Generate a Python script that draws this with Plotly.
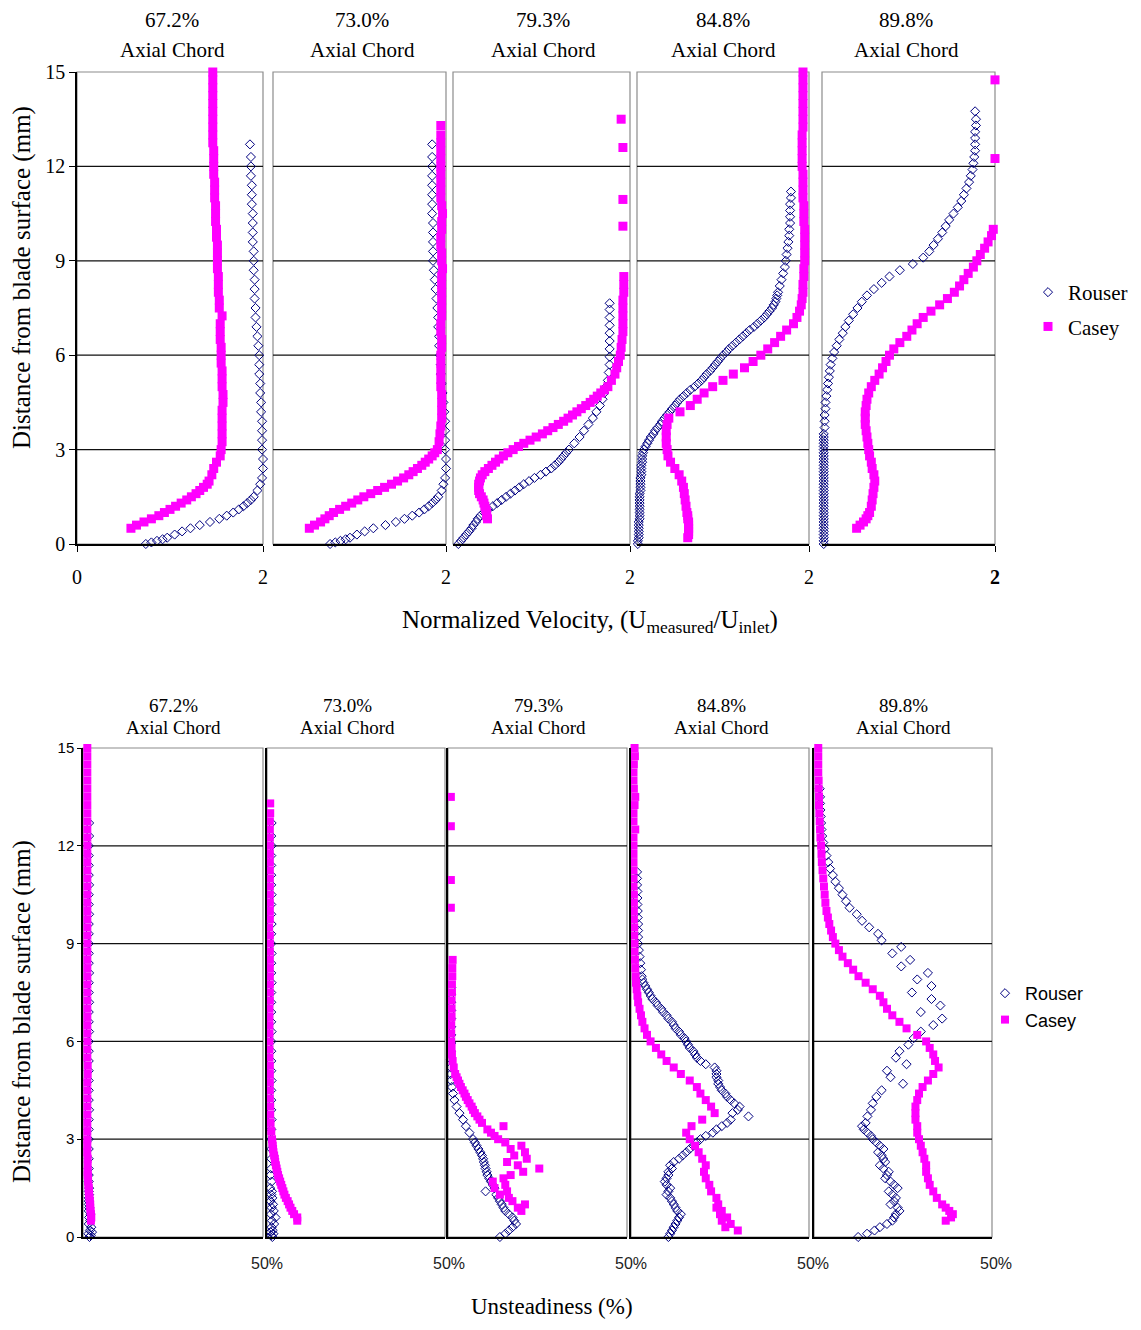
import plotly.graph_objects as go

# page is 1141x1330; the browser's default 8px body margin is kept, so the
# figure is sized to fit inside it exactly
OFF = 8
W, H = 1141 - 2 * OFF, 1330 - 2 * OFF

stations = ["67.2%", "73.0%", "79.3%", "84.8%", "89.8%"]
distance_ticks = [0, 3, 6, 9, 12, 15]
velocity_tick_labels = ["0", "2"]
unsteadiness_tick_label = "50%"

# Each row: (distance from blade surface [mm], normalized velocity, unsteadiness [%])
rouser_672 = [
    (0.0, 0.74, 1.8), (0.05, 0.80, 2.2), (0.1, 0.86, 1.5), (0.15, 0.92, 2.5), (0.2, 0.97, 1.9),
    (0.3, 1.05, 2.3), (0.4, 1.13, 1.6), (0.5, 1.22, 2.0), (0.6, 1.32, 1.7), (0.7, 1.43, 2.1),
    (0.8, 1.53, 1.6), (0.9, 1.61, 1.7), (1.0, 1.68, 1.6), (1.1, 1.74, 1.6), (1.2, 1.79, 1.6),
    (1.3, 1.83, 1.7), (1.4, 1.87, 1.6), (1.5, 1.90, 1.7), (1.7, 1.94, 1.6), (1.9, 1.97, 1.6),
    (2.1, 1.99, 1.6), (2.4, 2.00, 1.6), (2.7, 2.00, 1.6), (3.0, 1.99, 1.6), (3.3, 1.99, 1.6),
    (3.6, 1.99, 1.6), (3.9, 1.99, 1.7), (4.2, 1.98, 1.6), (4.5, 1.98, 1.6), (4.8, 1.97, 1.6),
    (5.1, 1.97, 1.6), (5.4, 1.96, 1.6), (5.7, 1.96, 1.6), (6.0, 1.96, 1.6), (6.3, 1.95, 1.7),
    (6.6, 1.94, 1.6), (6.9, 1.93, 1.6), (7.2, 1.92, 1.7), (7.5, 1.92, 1.6), (7.8, 1.91, 1.6),
    (8.1, 1.91, 1.7), (8.4, 1.91, 1.6), (8.7, 1.90, 1.6), (9.0, 1.90, 1.6), (9.3, 1.90, 1.6),
    (9.6, 1.89, 1.6), (9.9, 1.89, 1.7), (10.2, 1.89, 1.6), (10.5, 1.89, 1.6), (10.8, 1.88, 1.7),
    (11.1, 1.88, 1.6), (11.4, 1.88, 1.6), (11.7, 1.87, 1.6), (12.0, 1.87, 1.6), (12.3, 1.87, 1.7),
    (12.7, 1.86, 1.7),
]
casey_672 = [
    (0.5, 0.58, 2.2), (0.6, 0.64, 2.3), (0.7, 0.72, 2.2), (0.8, 0.80, 2.1), (0.9, 0.88, 2.0),
    (1.0, 0.94, 2.0), (1.1, 1.00, 1.9), (1.2, 1.06, 1.8), (1.3, 1.12, 1.7), (1.4, 1.18, 1.6),
    (1.5, 1.23, 1.6), (1.6, 1.28, 1.5), (1.7, 1.32, 1.4), (1.8, 1.36, 1.4), (1.9, 1.40, 1.3),
    (2.0, 1.42, 1.3), (2.2, 1.45, 1.3), (2.4, 1.47, 1.3), (2.6, 1.50, 1.2), (2.8, 1.54, 1.2),
    (3.0, 1.55, 1.2), (3.25, 1.56, 1.2), (3.5, 1.56, 1.2), (3.75, 1.56, 1.2), (4.0, 1.56, 1.2),
    (4.25, 1.56, 1.2), (4.5, 1.57, 1.2), (4.75, 1.57, 1.2), (5.0, 1.56, 1.3), (5.25, 1.56, 1.3),
    (5.5, 1.56, 1.2), (5.75, 1.55, 1.2), (6.0, 1.55, 1.2), (6.25, 1.55, 1.2), (6.5, 1.54, 1.2),
    (6.75, 1.54, 1.2), (7.0, 1.54, 1.2), (7.25, 1.56, 1.2), (7.5, 1.53, 1.2), (7.75, 1.53, 1.2),
    (8.0, 1.52, 1.2), (8.25, 1.52, 1.2), (8.5, 1.52, 1.2), (8.75, 1.51, 1.2), (9.0, 1.51, 1.2),
    (9.25, 1.51, 1.2), (9.5, 1.51, 1.2), (9.75, 1.50, 1.2), (10.0, 1.50, 1.2), (10.25, 1.49, 1.2),
    (10.5, 1.49, 1.2), (10.75, 1.49, 1.2), (11.0, 1.48, 1.2), (11.25, 1.48, 1.2), (11.5, 1.48, 1.2),
    (11.75, 1.47, 1.2), (12.0, 1.47, 1.2), (12.25, 1.47, 1.2), (12.5, 1.47, 1.2), (12.75, 1.46, 1.2),
    (13.0, 1.46, 1.2), (13.25, 1.46, 1.2), (13.5, 1.46, 1.2), (13.75, 1.46, 1.2), (14.0, 1.46, 1.2),
    (14.25, 1.46, 1.2), (14.5, 1.46, 1.2), (14.75, 1.46, 1.2), (15.0, 1.46, 1.2),
]

rouser_730 = [
    (0.0, 0.66, 1.5), (0.05, 0.72, 1.2), (0.1, 0.78, 1.8), (0.15, 0.84, 1.0), (0.2, 0.89, 1.6),
    (0.3, 0.97, 1.3), (0.4, 1.06, 2.0), (0.5, 1.16, 1.4), (0.6, 1.30, 2.4), (0.7, 1.42, 1.1),
    (0.8, 1.52, 1.9), (0.9, 1.61, 1.3), (1.0, 1.69, 1.7), (1.1, 1.75, 1.0), (1.2, 1.80, 1.5),
    (1.3, 1.84, 1.2), (1.4, 1.88, 1.4), (1.5, 1.91, 0.9), (1.7, 1.95, 1.3), (1.9, 1.97, 1.0),
    (2.1, 1.99, 1.2), (2.4, 2.00, 1.2), (2.7, 2.00, 1.2), (3.0, 1.99, 1.2), (3.3, 1.99, 1.2),
    (3.6, 1.99, 1.3), (3.9, 1.99, 1.2), (4.2, 1.98, 1.2), (4.5, 1.97, 1.2), (4.8, 1.96, 1.3),
    (5.1, 1.95, 1.2), (5.4, 1.94, 1.2), (5.7, 1.94, 1.2), (6.0, 1.93, 1.2), (6.3, 1.92, 1.3),
    (6.6, 1.92, 1.2), (6.9, 1.91, 1.2), (7.2, 1.91, 1.2), (7.5, 1.90, 1.2), (7.8, 1.89, 1.3),
    (8.1, 1.88, 1.2), (8.4, 1.87, 1.2), (8.7, 1.86, 1.3), (9.0, 1.85, 1.2), (9.3, 1.85, 1.2),
    (9.6, 1.85, 1.3), (9.9, 1.85, 1.2), (10.2, 1.85, 1.2), (10.5, 1.84, 1.3), (10.8, 1.84, 1.2),
    (11.1, 1.84, 1.2), (11.4, 1.84, 1.2), (11.7, 1.84, 1.2), (12.0, 1.84, 1.3), (12.3, 1.84, 1.2),
    (12.7, 1.84, 1.3),
]
casey_730 = [
    (0.5, 0.42, 8.5), (0.6, 0.48, 8.5), (0.7, 0.55, 7.6), (0.8, 0.60, 7.1), (0.9, 0.65, 6.6),
    (1.0, 0.70, 6.2), (1.1, 0.77, 5.8), (1.2, 0.84, 5.3), (1.3, 0.91, 4.9), (1.4, 0.98, 4.6),
    (1.5, 1.05, 4.3), (1.6, 1.13, 4.0), (1.7, 1.21, 3.7), (1.8, 1.29, 3.4), (1.9, 1.37, 3.1),
    (2.0, 1.44, 2.9), (2.1, 1.51, 2.7), (2.2, 1.57, 2.5), (2.3, 1.62, 2.3), (2.4, 1.67, 2.2),
    (2.5, 1.72, 2.0), (2.6, 1.76, 1.8), (2.7, 1.80, 1.7), (2.8, 1.84, 1.6), (2.9, 1.87, 1.5),
    (3.0, 1.90, 1.4), (3.25, 1.92, 1.2), (3.5, 1.93, 1.0), (3.75, 1.94, 0.9), (4.0, 1.95, 0.9),
    (4.25, 1.95, 0.8), (4.5, 1.95, 0.8), (4.75, 1.95, 0.8), (5.0, 1.94, 0.8), (5.25, 1.94, 0.8),
    (5.5, 1.94, 0.7), (5.75, 1.94, 0.7), (6.0, 1.94, 0.7), (6.25, 1.95, 0.7), (6.5, 1.95, 0.7),
    (6.75, 1.94, 0.7), (7.0, 1.94, 0.7), (7.25, 1.95, 0.8), (7.5, 1.95, 0.8), (7.75, 1.95, 0.8),
    (8.0, 1.95, 0.8), (8.25, 1.95, 0.8), (8.5, 1.95, 0.8), (8.75, 1.96, 0.8), (9.0, 1.95, 0.8),
    (9.25, 1.95, 0.8), (9.5, 1.94, 0.6), (9.75, 1.94, 0.8), (10.0, 1.95, 0.8), (10.25, 1.95, 0.8),
    (10.5, 1.96, 0.8), (10.75, 1.95, 0.8), (11.0, 1.94, 0.8), (11.25, 1.94, 0.8), (11.5, 1.94, 0.8),
    (11.75, 1.94, 0.8), (12.0, 1.94, 0.8), (12.25, 1.94, 0.8), (12.5, 1.94, 0.8), (12.75, 1.94, 0.8),
    (13.0, 1.94, 0.9), (13.3, 1.94, 0.9),
]

rouser_793 = [
    (0.0, 0.06, 14.5), (0.1, 0.09, 16.0), (0.2, 0.12, 17.0), (0.3, 0.15, 18.0), (0.4, 0.18, 19.0),
    (0.5, 0.21, 18.5), (0.6, 0.23, 18.0), (0.7, 0.26, 17.0), (0.8, 0.28, 16.0), (0.9, 0.31, 15.5),
    (1.0, 0.35, 15.0), (1.1, 0.40, 14.5), (1.2, 0.45, 14.0), (1.3, 0.50, 13.5), (1.4, 0.55, 10.5),
    (1.5, 0.60, 13.0), (1.6, 0.65, 12.5), (1.7, 0.70, 12.0), (1.8, 0.75, 11.5), (1.9, 0.80, 11.0),
    (2.0, 0.86, 10.8), (2.1, 0.92, 10.5), (2.2, 0.99, 10.3), (2.3, 1.05, 10.0), (2.4, 1.11, 9.8),
    (2.5, 1.15, 9.5), (2.6, 1.19, 9.0), (2.7, 1.22, 8.5), (2.8, 1.25, 8.0), (2.9, 1.28, 7.5),
    (3.0, 1.31, 7.0), (3.2, 1.37, 6.0), (3.4, 1.43, 5.0), (3.6, 1.48, 4.2), (3.8, 1.53, 3.2),
    (4.0, 1.58, 2.4), (4.2, 1.62, 1.8), (4.4, 1.66, 1.4), (4.6, 1.69, 1.1), (4.8, 1.71, 0.9),
    (5.0, 1.73, 0.8), (5.2, 1.75, 0.8), (5.45, 1.76, 0.8), (5.7, 1.77, 0.8), (5.95, 1.77, 0.9),
    (6.2, 1.77, 0.9), (6.45, 1.77, 0.9), (6.7, 1.77, 0.9), (6.95, 1.77, 0.9), (7.2, 1.77, 0.9),
    (7.45, 1.77, 0.9), (7.65, 1.77, 0.9),
]
casey_793 = [
    (0.8, 0.39, 20.5), (0.9, 0.38, 19.5), (1.0, 0.38, 21.5), (1.1, 0.37, 18.0), (1.2, 0.36, 17.0),
    (1.3, 0.35, 14.5), (1.4, 0.34, 16.5), (1.5, 0.32, 13.0), (1.6, 0.30, 16.0), (1.7, 0.29, 12.5),
    (1.8, 0.29, 15.5), (1.9, 0.29, 17.5), (2.0, 0.30, 21.0), (2.1, 0.31, 25.5), (2.2, 0.33, 19.5),
    (2.3, 0.36, 16.5), (2.4, 0.40, 22.0), (2.5, 0.44, 18.5), (2.6, 0.48, 21.5), (2.7, 0.52, 17.5),
    (2.8, 0.57, 20.5), (2.9, 0.62, 16.0), (3.0, 0.68, 14.0), (3.1, 0.74, 13.0), (3.2, 0.80, 12.0),
    (3.3, 0.87, 11.0), (3.4, 0.94, 15.5), (3.5, 1.01, 9.5), (3.6, 1.07, 8.8), (3.7, 1.13, 8.2),
    (3.8, 1.19, 7.5), (3.9, 1.25, 7.0), (4.0, 1.30, 6.6), (4.1, 1.35, 6.0), (4.2, 1.40, 5.5),
    (4.3, 1.45, 5.0), (4.4, 1.50, 4.6), (4.5, 1.55, 4.1), (4.6, 1.59, 3.6), (4.7, 1.63, 3.2),
    (4.8, 1.67, 2.8), (4.9, 1.71, 2.4), (5.0, 1.75, 2.0), (5.2, 1.79, 1.6), (5.4, 1.83, 1.3),
    (5.6, 1.85, 1.1), (5.8, 1.87, 1.0), (6.0, 1.89, 0.9), (6.25, 1.90, 0.9), (6.5, 1.91, 0.9),
    (6.75, 1.92, 1.0), (7.0, 1.92, 1.0), (7.25, 1.92, 1.0), (7.5, 1.92, 1.1), (7.75, 1.92, 1.1),
    (8.0, 1.93, 1.2), (8.25, 1.93, 1.2), (8.5, 1.93, 1.3), (10.1, 1.92, 0.8), (10.95, 1.92, 0.8),
    (12.6, 1.92, 0.8), (13.5, 1.90, 0.8),
]

rouser_848 = [
    (0.0, 0.01, 10.5), (0.1, 0.01, 11.0), (0.2, 0.02, 11.5), (0.3, 0.02, 12.0), (0.4, 0.02, 12.5),
    (0.5, 0.02, 13.0), (0.6, 0.02, 13.5), (0.7, 0.02, 14.0), (0.8, 0.03, 13.0), (0.9, 0.03, 12.5),
    (1.0, 0.03, 12.0), (1.1, 0.03, 11.5), (1.2, 0.03, 11.0), (1.3, 0.03, 10.0), (1.4, 0.03, 10.5),
    (1.5, 0.03, 11.0), (1.6, 0.03, 10.0), (1.7, 0.04, 9.5), (1.8, 0.04, 10.0), (1.9, 0.04, 10.5),
    (2.0, 0.04, 10.5), (2.1, 0.04, 11.5), (2.2, 0.05, 11.0), (2.3, 0.05, 12.0), (2.4, 0.05, 13.5),
    (2.5, 0.05, 14.5), (2.6, 0.06, 15.5), (2.7, 0.06, 16.5), (2.8, 0.06, 17.5), (2.9, 0.07, 18.5),
    (3.0, 0.08, 19.5), (3.1, 0.10, 21.0), (3.2, 0.12, 23.0), (3.3, 0.14, 24.0), (3.4, 0.16, 25.5),
    (3.5, 0.19, 27.0), (3.6, 0.21, 28.0), (3.7, 0.24, 33.0), (3.8, 0.27, 28.5), (3.9, 0.29, 30.0),
    (4.0, 0.32, 30.5), (4.1, 0.35, 29.0), (4.2, 0.38, 28.0), (4.3, 0.41, 27.0), (4.4, 0.44, 26.5),
    (4.5, 0.47, 25.5), (4.6, 0.50, 25.0), (4.7, 0.54, 24.5), (4.8, 0.58, 24.5), (4.9, 0.62, 24.0),
    (5.0, 0.67, 24.0), (5.1, 0.71, 24.0), (5.2, 0.75, 23.5), (5.3, 0.78, 21.0), (5.4, 0.81, 19.5),
    (5.5, 0.85, 18.5), (5.6, 0.88, 18.0), (5.7, 0.91, 17.5), (5.8, 0.94, 16.5), (5.9, 0.97, 16.0),
    (6.0, 1.00, 15.5), (6.1, 1.04, 15.0), (6.2, 1.07, 14.0), (6.3, 1.11, 13.5), (6.4, 1.15, 12.5),
    (6.5, 1.19, 12.0), (6.6, 1.23, 11.5), (6.7, 1.27, 10.5), (6.8, 1.31, 10.0), (6.9, 1.36, 9.0),
    (7.0, 1.40, 8.5), (7.1, 1.44, 7.5), (7.2, 1.48, 7.0), (7.3, 1.51, 6.0), (7.4, 1.54, 5.5),
    (7.5, 1.57, 5.0), (7.6, 1.59, 4.5), (7.7, 1.61, 4.0), (7.8, 1.62, 3.5), (7.9, 1.63, 3.2),
    (8.0, 1.64, 3.0), (8.2, 1.66, 2.8), (8.4, 1.68, 2.6), (8.6, 1.70, 2.4), (8.8, 1.72, 2.2),
    (9.0, 1.73, 2.0), (9.2, 1.74, 2.0), (9.4, 1.75, 2.0), (9.6, 1.76, 2.0), (9.8, 1.77, 1.9),
    (10.0, 1.77, 1.9), (10.2, 1.78, 1.8), (10.4, 1.78, 1.8), (10.6, 1.78, 1.8), (10.8, 1.78, 1.7),
    (11.0, 1.79, 1.7), (11.2, 1.79, 1.7),
]
casey_848 = [
    (0.2, 0.59, 30.0), (0.3, 0.60, 26.5), (0.4, 0.60, 28.0), (0.5, 0.60, 25.5), (0.6, 0.60, 27.0),
    (0.7, 0.60, 25.0), (0.8, 0.59, 25.5), (0.9, 0.59, 24.0), (1.0, 0.58, 24.5), (1.2, 0.57, 24.0),
    (1.4, 0.56, 22.5), (1.6, 0.55, 22.0), (1.8, 0.54, 21.0), (2.0, 0.52, 20.5), (2.2, 0.49, 21.0),
    (2.4, 0.44, 20.0), (2.6, 0.39, 19.0), (2.8, 0.36, 18.0), (3.0, 0.35, 16.5), (3.2, 0.34, 15.5),
    (3.4, 0.34, 17.0), (3.6, 0.34, 20.0), (3.8, 0.35, 23.5), (4.0, 0.37, 22.5), (4.2, 0.50, 21.0),
    (4.4, 0.62, 19.5), (4.6, 0.70, 18.5), (4.8, 0.78, 16.5), (5.0, 0.88, 14.0), (5.2, 1.00, 12.0),
    (5.4, 1.12, 10.0), (5.6, 1.25, 8.5), (5.8, 1.35, 7.0), (6.0, 1.44, 5.5), (6.2, 1.52, 4.5),
    (6.4, 1.60, 3.8), (6.6, 1.67, 3.2), (6.8, 1.74, 2.8), (7.0, 1.82, 2.4), (7.2, 1.86, 2.0),
    (7.4, 1.89, 1.8), (7.6, 1.91, 1.6), (7.8, 1.92, 1.4), (8.0, 1.93, 1.3), (8.25, 1.93, 1.2),
    (8.5, 1.94, 1.1), (8.75, 1.94, 1.0), (9.0, 1.95, 1.0), (9.25, 1.95, 0.9), (9.5, 1.95, 0.9),
    (9.75, 1.95, 0.8), (10.0, 1.95, 0.8), (10.25, 1.94, 0.8), (10.5, 1.94, 0.8), (10.75, 1.94, 0.7),
    (11.0, 1.93, 0.7), (11.25, 1.93, 0.7), (11.5, 1.93, 0.7), (11.75, 1.93, 0.7), (12.0, 1.92, 0.7),
    (12.25, 1.92, 0.7), (12.5, 1.92, 1.2), (12.75, 1.92, 0.7), (13.0, 1.92, 0.7), (13.25, 1.93, 1.0),
    (13.5, 1.93, 1.2), (13.75, 1.93, 0.8), (14.0, 1.93, 0.7), (14.25, 1.93, 0.7), (14.5, 1.93, 0.8),
    (14.75, 1.93, 1.1), (15.0, 1.93, 1.0),
]

rouser_898 = [
    (0.0, 0.02, 12.4), (0.1, 0.02, 14.9), (0.2, 0.02, 17.0), (0.3, 0.02, 18.5), (0.4, 0.02, 20.5),
    (0.5, 0.02, 22.0), (0.6, 0.02, 22.5), (0.7, 0.02, 23.0), (0.8, 0.02, 24.0), (0.9, 0.02, 23.5),
    (1.0, 0.02, 21.5), (1.1, 0.02, 22.5), (1.2, 0.02, 23.0), (1.3, 0.02, 22.0), (1.4, 0.02, 21.0),
    (1.5, 0.02, 23.5), (1.6, 0.02, 22.5), (1.7, 0.02, 21.5), (1.8, 0.02, 20.0), (1.9, 0.02, 20.5),
    (2.0, 0.02, 21.0), (2.1, 0.02, 19.5), (2.2, 0.02, 18.5), (2.3, 0.02, 20.0), (2.4, 0.02, 19.5),
    (2.5, 0.02, 19.0), (2.6, 0.02, 18.0), (2.7, 0.02, 19.5), (2.8, 0.02, 18.5), (2.9, 0.02, 17.5),
    (3.0, 0.02, 16.5), (3.1, 0.02, 16.0), (3.2, 0.02, 15.0), (3.3, 0.02, 14.0), (3.4, 0.02, 13.5),
    (3.5, 0.02, 14.5), (3.7, 0.03, 15.0), (3.9, 0.03, 16.0), (4.1, 0.03, 16.5), (4.3, 0.04, 17.5),
    (4.5, 0.04, 19.0), (4.7, 0.05, 25.0), (4.9, 0.06, 21.5), (5.1, 0.07, 20.5), (5.3, 0.08, 26.0),
    (5.5, 0.09, 23.0), (5.7, 0.10, 24.0), (5.9, 0.12, 26.5), (6.1, 0.14, 28.0), (6.3, 0.17, 30.0),
    (6.5, 0.20, 33.5), (6.7, 0.24, 36.0), (6.9, 0.27, 30.0), (7.1, 0.31, 35.5), (7.3, 0.36, 33.0),
    (7.5, 0.41, 27.5), (7.7, 0.46, 33.0), (7.9, 0.52, 29.0), (8.1, 0.60, 32.0), (8.3, 0.69, 24.5),
    (8.5, 0.78, 27.0), (8.7, 0.90, 22.0), (8.9, 1.05, 24.5), (9.1, 1.17, 19.0), (9.3, 1.24, 18.0),
    (9.5, 1.29, 15.5), (9.7, 1.34, 13.5), (9.9, 1.39, 12.0), (10.1, 1.43, 10.0), (10.3, 1.47, 9.0),
    (10.5, 1.52, 8.0), (10.7, 1.57, 7.0), (10.9, 1.61, 6.0), (11.1, 1.64, 5.3), (11.3, 1.67, 4.5),
    (11.5, 1.70, 4.0), (11.7, 1.72, 3.5), (11.9, 1.74, 3.0), (12.1, 1.75, 2.6), (12.3, 1.76, 2.3),
    (12.5, 1.77, 2.1), (12.7, 1.77, 2.0), (12.9, 1.77, 1.9), (13.1, 1.77, 1.8), (13.3, 1.78, 1.7),
    (13.5, 1.78, 1.7), (13.75, 1.77, 1.6),
]
# velocity None = above 2.0, off the chart's scale
casey_898 = [
    (0.5, 0.40, 37.0), (0.6, 0.44, 38.5), (0.7, 0.48, 39.0), (0.8, 0.51, 38.0), (0.9, 0.53, 37.0),
    (1.0, 0.55, 36.0), (1.2, 0.57, 34.5), (1.4, 0.58, 33.5), (1.6, 0.59, 32.5), (1.8, 0.60, 32.0),
    (2.0, 0.61, 31.5), (2.2, 0.60, 31.5), (2.4, 0.58, 31.0), (2.6, 0.57, 30.5), (2.8, 0.55, 30.0),
    (3.0, 0.54, 29.5), (3.2, 0.53, 29.0), (3.4, 0.52, 29.0), (3.6, 0.51, 28.5), (3.8, 0.50, 28.5),
    (4.0, 0.50, 28.5), (4.2, 0.50, 29.0), (4.4, 0.51, 29.5), (4.6, 0.52, 30.5), (4.8, 0.54, 32.0),
    (5.0, 0.57, 33.5), (5.2, 0.61, 35.0), (5.4, 0.66, 34.0), (5.6, 0.70, 33.5), (5.8, 0.74, 32.5),
    (6.0, 0.78, 31.5), (6.2, 0.83, 29.0), (6.4, 0.90, 26.0), (6.6, 0.98, 24.0), (6.8, 1.04, 22.0),
    (7.0, 1.10, 20.5), (7.2, 1.17, 19.5), (7.4, 1.26, 18.5), (7.6, 1.36, 16.5), (7.8, 1.45, 14.5),
    (8.0, 1.53, 12.5), (8.2, 1.59, 11.0), (8.4, 1.64, 9.5), (8.6, 1.69, 8.0), (8.8, 1.75, 7.0),
    (9.0, 1.79, 6.0), (9.2, 1.83, 5.3), (9.4, 1.88, 4.8), (9.6, 1.92, 4.3), (9.8, 1.96, 3.9),
    (10.0, 1.98, 3.5), (10.25, None, 3.2), (10.5, None, 3.0), (10.75, None, 2.8), (11.0, None, 2.6),
    (11.25, None, 2.4), (11.5, None, 2.2), (11.75, None, 2.1), (12.0, None, 2.0), (12.25, 2.00, 1.8),
    (12.5, None, 1.7), (12.75, None, 1.6), (13.0, None, 1.5), (13.25, None, 1.4), (13.5, None, 1.4),
    (13.75, None, 1.3), (14.0, None, 1.3), (14.25, None, 1.2), (14.5, None, 1.2), (14.75, 2.00, 1.2),
    (15.0, None, 1.2),
]

series = [
    (rouser_672, casey_672),
    (rouser_730, casey_730),
    (rouser_793, casey_793),
    (rouser_848, casey_848),
    (rouser_898, casey_898),
]

# ---------------- layout geometry (page pixels) ----------------
top_x_px = [(77, 263), (273, 446), (453, 630), (637, 809), (822, 995)]
bot_x_px = [(83, 263), (267, 445), (448, 627), (631, 809), (814, 992)]
top_y_px = (72, 544)
bot_y_px = (748, 1237)
top_title_x = [172, 362, 543, 723, 906]
bot_title_x = [173, 347, 538, 721, 903]

SERIF = "Liberation Serif"
SANS = "Liberation Sans"
NAVY = "#000080"
MAGENTA = "#FF00FF"


def px(x):
    return (x - OFF) / W


def py(y):
    return 1 - (y - OFF) / H


def xdom(a, b):
    return [px(a), px(b)]


def ydom(top, bottom):
    return [py(bottom), py(top)]


fig = go.Figure()
layout = dict(
    template="none",
    width=W, height=H, autosize=False,
    margin=dict(l=0, r=0, t=0, b=0, pad=0, autoexpand=False),
    paper_bgcolor="white", plot_bgcolor="white",
    font=dict(family=SERIF, color="black"),
    showlegend=True, shapes=[], annotations=[],
)

for row in (0, 1):
    for j in range(5):
        n = j + 1 + 5 * row
        xname = "xaxis" if n == 1 else f"xaxis{n}"
        yname = "yaxis" if n == 1 else f"yaxis{n}"
        xref = "x" if n == 1 else f"x{n}"
        yref = "y" if n == 1 else f"y{n}"
        if row == 0:
            xa = dict(
                domain=xdom(*top_x_px[j]), range=[0, 2], anchor=yref,
                showline=True, linecolor="black", linewidth=1.5,
                ticks="outside", ticklen=6, tickcolor="black", tickwidth=1.2,
                tickmode="array",
                tickvals=[0, 2] if j == 0 else [2],
                ticktext=(velocity_tick_labels if j == 0 else
                          (["<b>2</b>"] if j == 4 else ["2"])),
                tickfont=dict(family=SERIF, size=20, color="black"),
                ticklabelstandoff=8,
                showgrid=False, zeroline=False, fixedrange=True, automargin=False,
            )
            ya = dict(domain=ydom(*top_y_px), range=[0, 15], anchor=xref,
                      showgrid=False, zeroline=False, fixedrange=True, automargin=False)
            if j == 0:
                ya.update(showline=True, linecolor="black", linewidth=1.5,
                          ticks="outside", ticklen=6, tickcolor="black", tickwidth=1.2,
                          tickmode="array", tickvals=distance_ticks,
                          tickfont=dict(family=SERIF, size=20, color="black"))
            else:
                ya.update(showline=False, showticklabels=False, ticks="")
        else:
            xa = dict(
                domain=xdom(*bot_x_px[j]), range=[0, 50], anchor=yref,
                showline=True, linecolor="black", linewidth=1.5,
                ticks="", tickmode="array", tickvals=[50],
                ticktext=[unsteadiness_tick_label],
                tickfont=dict(family=SANS, size=16, color="#222"),
                ticklabelstandoff=11, ticklabelshift=4,
                showgrid=False, zeroline=False, fixedrange=True, automargin=False,
            )
            ya = dict(domain=ydom(*bot_y_px), range=[0, 15], anchor=xref,
                      showgrid=False, zeroline=False, fixedrange=True, automargin=False,
                      showline=True, linecolor="black", linewidth=1.5)
            if j == 0:
                ya.update(ticks="outside", ticklen=4, tickcolor="black",
                          tickmode="array", tickvals=distance_ticks,
                          tickfont=dict(family=SANS, size=15, color="black"))
            else:
                ya.update(showticklabels=False, ticks="")
        layout[xname] = xa
        layout[yname] = ya

        # plot-area border (grey) and horizontal gridlines
        layout["shapes"].append(dict(
            type="rect", xref=f"{xref} domain", yref=f"{yref} domain",
            x0=0, x1=1, y0=0, y1=1, line=dict(color="#8c8c8c", width=1.2),
            layer="below"))
        for g in distance_ticks[1:-1]:
            layout["shapes"].append(dict(
                type="line", xref=f"{xref} domain", yref=yref,
                x0=0, x1=1, y0=g, y1=g, line=dict(color="#111", width=1.3),
                layer="below"))

        rouser, casey = series[j]
        col = 1 + row
        legend_id = "legend" if row == 0 else "legend2"
        fig.add_trace(go.Scatter(
            x=[d[col] for d in rouser], y=[d[0] for d in rouser],
            mode="markers", name="Rouser", xaxis=xref, yaxis=yref,
            marker=dict(symbol="diamond-open", size=7, color=NAVY,
                        line=dict(width=1, color=NAVY)),
            cliponaxis=False, showlegend=(j == 0), legend=legend_id,
            legendgroup=f"rouser{row}"))
        fig.add_trace(go.Scatter(
            x=[d[col] for d in casey], y=[d[0] for d in casey],
            mode="markers", name="Casey", xaxis=xref, yaxis=yref,
            marker=dict(symbol="square", size=9 if row == 0 else 8, color=MAGENTA,
                        line=dict(width=0)),
            cliponaxis=False, showlegend=(j == 0), legend=legend_id,
            legendgroup=f"casey{row}"))

# station titles
for j in range(5):
    layout["annotations"] += [
        dict(x=px(top_title_x[j]), y=py(20), xref="paper", yref="paper",
             text=stations[j], showarrow=False, xanchor="center", yanchor="middle",
             font=dict(family=SERIF, size=21, color="black")),
        dict(x=px(top_title_x[j]), y=py(50), xref="paper", yref="paper",
             text="Axial Chord", showarrow=False, xanchor="center", yanchor="middle",
             font=dict(family=SERIF, size=21, color="black")),
        dict(x=px(bot_title_x[j]), y=py(705), xref="paper", yref="paper",
             text=stations[j], showarrow=False, xanchor="center", yanchor="middle",
             font=dict(family=SERIF, size=19, color="black")),
        dict(x=px(bot_title_x[j]), y=py(727), xref="paper", yref="paper",
             text="Axial Chord", showarrow=False, xanchor="center", yanchor="middle",
             font=dict(family=SERIF, size=19, color="black")),
    ]

# axis titles
layout["annotations"] += [
    dict(x=px(22), y=py(278), xref="paper", yref="paper", textangle=-90,
         text="Distance from blade surface (mm)", showarrow=False,
         xanchor="center", yanchor="middle",
         font=dict(family=SERIF, size=25, color="black")),
    dict(x=px(22), y=py(1012), xref="paper", yref="paper", textangle=-90,
         text="Distance from blade surface (mm)", showarrow=False,
         xanchor="center", yanchor="middle",
         font=dict(family=SERIF, size=25, color="black")),
    dict(x=px(590), y=py(622), xref="paper", yref="paper",
         text="Normalized Velocity, (U<sub>measured</sub>/U<sub>inlet</sub>)",
         showarrow=False, xanchor="center", yanchor="middle",
         font=dict(family=SERIF, size=25, color="black")),
    dict(x=px(552), y=py(1306), xref="paper", yref="paper",
         text="Unsteadiness (%)", showarrow=False, xanchor="center", yanchor="middle",
         font=dict(family=SERIF, size=23, color="black")),
]

layout["legend"] = dict(
    x=px(1028), y=py(272), xanchor="left", yanchor="top",
    font=dict(family=SERIF, size=21, color="black"), bgcolor="rgba(0,0,0,0)",
    traceorder="grouped", tracegroupgap=4, borderwidth=0)
layout["legend2"] = dict(
    x=px(985), y=py(975), xanchor="left", yanchor="top",
    font=dict(family=SANS, size=18, color="black"), bgcolor="rgba(0,0,0,0)",
    traceorder="grouped", tracegroupgap=0, borderwidth=0)

fig.update_layout(**layout)
fig.write_html("out.html", config={"displayModeBar": False})
